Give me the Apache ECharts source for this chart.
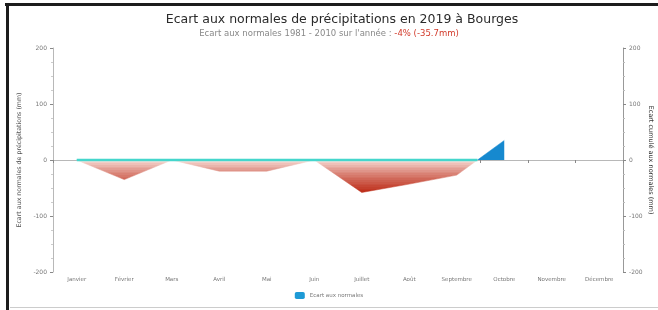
<!DOCTYPE html>
<html>
<head>
<meta charset="utf-8">
<script src="https://cdn.jsdelivr.net/npm/echarts@6/dist/echarts.min.js"></script>
<style>
  html, body { margin: 0; padding: 0; background: #fff; }
  #wrap { position: relative; width: 658px; height: 310px; overflow: hidden; }
  #chart { width: 658px; height: 310px; }
  .frame-top { position: absolute; left: 5px; top: 3px; width: 653px; height: 3px; background: #1c1c1c; }
  .frame-left { position: absolute; left: 6px; top: 4px; width: 3px; height: 306px; background: #1c1c1c; }
  .frame-bottom { position: absolute; left: 10px; top: 307px; width: 648px; height: 1px; background: #ccc; }
</style>
</head>
<body>
<div id="wrap">
  <div id="chart"></div>
  <div class="frame-top"></div>
  <div class="frame-left"></div>
  <div class="frame-bottom"></div>
</div>
<script>
// mois
const months = ['Janvier', 'Février', 'Mars', 'Avril', 'Mai', 'Juin', 'Juillet', 'Août',
  'Septembre', 'Octobre', 'Novembre', 'Décembre'];
// écart aux normales (mm)
const ecart = [0, -35, 0, -20, -20, 0, -58, -43, -27, 35, null, null];
const yTicks = [-200, -100, 0, 100, 200];

// point où la courbe repasse au-dessus de 0 (pour la ligne cyan)
let crossX = ecart.length - 0.5;
for (let i = 0; i < ecart.length - 1; i++) {
  const a = ecart[i], b = ecart[i + 1];
  if (a != null && b != null && a < 0 && b > 0) {
    crossX = i + 0.5 + (-a) / (b - a);
  }
}

// dégradé rouge : clair près de 0, foncé vers le bas
const light = [253, 240, 236], dark = [190, 48, 28];
const pieces = [{ gt: 0, color: '#1689cf' }];
for (let v = 0; v > -60; v -= 3) {
  const t = Math.min(1, Math.pow(-(v - 1.5) / 56, 0.7));
  const c = light.map((l, k) => Math.round(l + (dark[k] - l) * t));
  pieces.push({ gt: v - 3, lte: v, color: 'rgb(' + c.join(',') + ')' });
}
pieces.push({ lte: -60, color: 'rgb(' + dark.join(',') + ')' });

const chart = echarts.init(document.getElementById('chart'));
const axisGrey = '#b8b8b8';
const labelGrey = '#777';

const option = {
  backgroundColor: '#fff',
  animation: false,
  title: [
    {
      text: 'Ecart aux normales de précipitations en 2019 à Bourges',
      left: 337,
      textAlign: 'center',
      top: 8,
      textStyle: { fontFamily: 'DejaVu Sans', fontSize: 12.5, fontWeight: 'normal', color: '#2a2a2a' }
    },
    {
      text: "Ecart aux normales 1981 - 2010 sur l'année : {r|-4% (-35.7mm)}",
      left: 'center',
      top: 24,
      textStyle: {
        fontFamily: 'DejaVu Sans', fontSize: 8.5, fontWeight: 'normal', color: '#888',
        rich: { r: { fontFamily: 'DejaVu Sans', fontSize: 8.5, color: '#d23a2a' } }
      }
    }
  ],
  legend: {
    data: ['Ecart aux normales'],
    bottom: 6,
    left: 'center',
    itemWidth: 10,
    itemHeight: 7,
    icon: 'roundRect',
    textStyle: { fontFamily: 'DejaVu Sans', fontSize: 5.5, color: '#777' }
  },
  grid: { left: 53, right: 35, top: 48, bottom: 38, containLabel: false, outerBoundsMode: 'none' },
  xAxis: [
    {
      type: 'category',
      data: months,
      boundaryGap: true,
      axisLine: { lineStyle: { color: axisGrey } },
      axisTick: { show: true, length: 3, lineStyle: { color: '#888' } },
      axisLabel: { fontFamily: 'DejaVu Sans', fontSize: 5.5, color: labelGrey, margin: 5 }
    },
    { type: 'value', min: 0, max: 12, show: false }
  ],
  yAxis: [
    {
      type: 'value',
      min: yTicks[0],
      max: yTicks[yTicks.length - 1],
      interval: 100,
      name: 'Ecart aux normales de précipitations (mm)',
      nameLocation: 'middle',
      nameGap: 31,
      nameMoveOverlap: false,
      nameTextStyle: { fontFamily: 'DejaVu Sans', fontSize: 6.3, color: '#555' },
      axisLine: { show: true, lineStyle: { color: axisGrey } },
      axisTick: { show: true, length: 3, lineStyle: { color: '#888' } },
      minorTick: { show: true, splitNumber: 4, length: 2, lineStyle: { color: '#ccc' } },
      splitLine: { show: false },
      axisLabel: { fontFamily: 'DejaVu Sans', fontSize: 6, color: labelGrey, margin: 6 }
    },
    {
      type: 'value',
      position: 'right',
      min: yTicks[0],
      max: yTicks[yTicks.length - 1],
      interval: 100,
      name: 'Ecart cumulé aux normales (mm)',
      nameLocation: 'middle',
      nameRotate: -90,
      nameGap: 24,
      nameMoveOverlap: false,
      nameTextStyle: { fontFamily: 'DejaVu Sans', fontSize: 6.5, color: '#333' },
      axisLine: { show: true, lineStyle: { color: '#999' } },
      axisTick: { show: true, length: 3, lineStyle: { color: '#888' } },
      minorTick: { show: true, splitNumber: 4, length: 2, lineStyle: { color: '#bbb' } },
      splitLine: { show: false },
      axisLabel: { fontFamily: 'DejaVu Sans', fontSize: 6, color: labelGrey, margin: 6 }
    }
  ],
  visualMap: {
    show: false,
    type: 'piecewise',
    seriesIndex: 0,
    dimension: 1,
    pieces: pieces
  },
  series: [
    {
      name: 'Ecart aux normales',
      type: 'line',
      data: ecart,
      symbol: 'none',
      itemStyle: { color: '#1e9ad6' },
      lineStyle: { width: 0.5 },
      areaStyle: { opacity: 1, origin: 0 },
      z: 2
    },
    {
      name: 'normale',
      type: 'line',
      xAxisIndex: 1,
      data: [[0.5, 0], [crossX, 0]],
      symbol: 'none',
      lineStyle: { color: '#45d6cc', width: 2.5 },
      z: 3
    }
  ]
};

chart.setOption(option);
</script>
</body>
</html>
